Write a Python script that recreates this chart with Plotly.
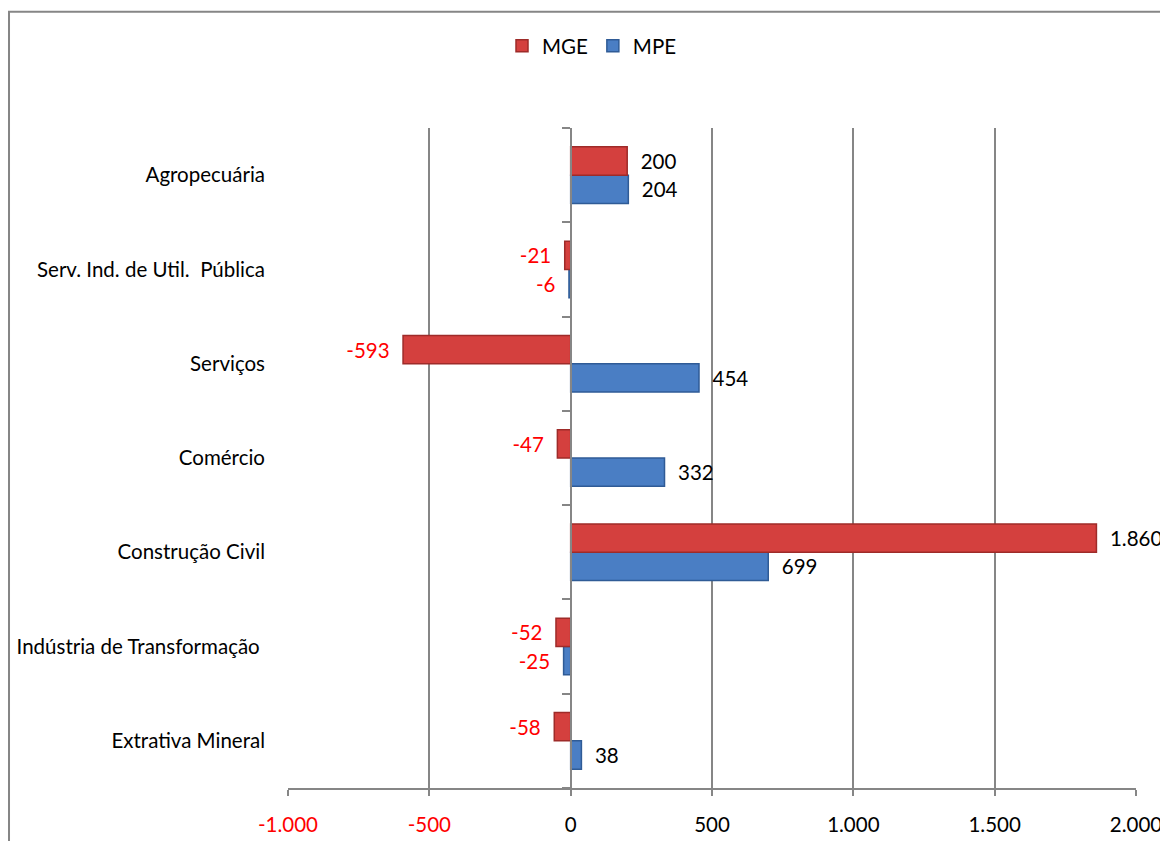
import plotly.graph_objects as go

categories = ["Agropecuária", "Serv. Ind. de Util.  Pública", "Serviços", "Comércio",
              "Construção Civil", "Indústria de Transformação ", "Extrativa Mineral"]
mge = [200, -21, -593, -47, 1860, -52, -58]
mpe = [204, -6, 454, 332, 699, -25, 38]
tick_vals = [-1000, -500, 0, 500, 1000, 1500, 2000]
tick_labels = ["-1.000", "-500", "0", "500", "1.000", "1.500", "2.000"]

FONT = "Lato"
FS = 20.5
GRID = "#868686"


def fmt(v):
    s = f"{abs(v):,}".replace(",", ".")
    return ("-" + s + "  ") if v < 0 else ("  " + s)


def colors(vals):
    return ["#FF0000" if v < 0 else "black" for v in vals]


fig = go.Figure()

# first trace sits lower in each group, so MPE goes first
fig.add_trace(go.Bar(
    y=categories, x=mpe, name="MPE", orientation="h",
    marker=dict(color="#4A7EC4", line=dict(color="#2F5B96", width=1.5)),
    text=[fmt(v) for v in mpe], textposition="outside",
    textfont=dict(family=FONT, size=FS, color=colors(mpe)),
    cliponaxis=False, constraintext="none",
))
fig.add_trace(go.Bar(
    y=categories, x=mge, name="MGE", orientation="h",
    marker=dict(color="#D4403E", line=dict(color="#9E2B29", width=1.5)),
    text=[fmt(v) for v in mge], textposition="outside",
    textfont=dict(family=FONT, size=FS, color=colors(mge)),
    cliponaxis=False, constraintext="none",
))

# invisible trace to draw the category axis at x = 0
fig.add_trace(go.Scatter(y=categories, x=[0] * len(categories), yaxis="y2",
                         mode="markers", marker=dict(opacity=0),
                         showlegend=False, hoverinfo="skip"))

order = categories[::-1]
fig.update_layout(
    width=1168, height=841,
    paper_bgcolor="white", plot_bgcolor="white",
    font=dict(family=FONT, size=FS, color="black"),
    barmode="group", bargap=0.4, bargroupgap=0,
    margin=dict(l=280, r=40, t=120, b=61, autoexpand=False),
    showlegend=True,
    legend=dict(orientation="h", traceorder="reversed",
                xref="container", x=0.5, xanchor="center",
                yref="container", y=0.955, yanchor="middle",
                font=dict(family=FONT, size=FS), itemwidth=30),
    xaxis=dict(range=[-1000, 2000], tickvals=tick_vals,
               ticktext=[f'<span style="color:#FF0000">{t}</span>' if v < 0 else t
                         for v, t in zip(tick_vals, tick_labels)],
               showgrid=True, gridcolor=GRID, gridwidth=1.5,
               zeroline=False, showline=True, linecolor=GRID, linewidth=2,
               ticks="outside", ticklen=6, tickcolor=GRID, tickwidth=2,
               ticklabelstandoff=11, tickfont=dict(size=FS), tickangle=0,
               automargin=False),
    yaxis=dict(type="category", categoryorder="array", categoryarray=order,
               range=[-0.5, 6.5], showline=False, ticks="",
               ticklabelstandoff=22, tickfont=dict(size=FS), automargin=False),
    yaxis2=dict(type="category", categoryorder="array", categoryarray=order,
                range=[-0.5, 6.5], overlaying="y", anchor="free",
                position=1 / 3, side="left", showline=True, linecolor=GRID,
                linewidth=2, ticks="outside", tickson="boundaries", ticklen=8,
                tickcolor=GRID, tickwidth=2, showticklabels=False, showgrid=False,
                automargin=False),
    shapes=[dict(type="rect", xref="paper", yref="paper",
                 x0=-0.329, x1=1.06, y0=-0.12, y1=1.176,
                 line=dict(color=GRID, width=2), fillcolor="rgba(0,0,0,0)",
                 layer="below")],
)

fig.write_html("out.html")
